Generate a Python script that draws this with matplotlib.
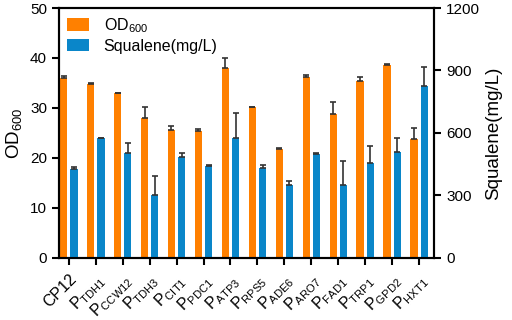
import matplotlib
matplotlib.use("Agg")
import matplotlib.pyplot as plt
import numpy as np

plt.rcParams["font.family"] = ["Liberation Sans", "DejaVu Sans"]
plt.rcParams["mathtext.fontset"] = "custom"
plt.rcParams["mathtext.rm"] = "Liberation Sans"

STRAINS = ["CP12", "TDH1", "CCW12", "TDH3", "CIT1", "PDC1", "ATP3",
           "RPS5", "ADE6", "ARO7", "FAD1", "TRP1", "GPD2", "HXT1"]
OD600 = [36.0, 34.7, 32.9, 27.9, 25.6, 25.4, 38.0,
         30.1, 21.8, 36.2, 28.8, 35.3, 38.5, 23.8]
OD600_ERR = [0.3, 0.2, 0.0, 2.3, 0.8, 0.3, 1.9,
             0.1, 0.1, 0.3, 2.3, 0.8, 0.2, 2.2]
SQUALENE = [425, 574, 506, 300, 485, 442, 574,
            432, 350, 499, 350, 456, 509, 826]
SQUALENE_ERR = [12, 2, 48, 94, 17, 2, 122,
                13, 19, 3, 114, 80, 69, 93]

ORANGE = "#FF8000"
BLUE = "#0A86C9"

fig = plt.figure(figsize=(5.12, 3.2), dpi=100)
ax = fig.add_axes([0.115, 0.194, 0.733, 0.781])
ax2 = ax.twinx()

x = np.arange(len(STRAINS))
width = 0.27
err_kw = dict(ecolor="#333333", elinewidth=1.2, capsize=2, capthick=1.2)

b1 = ax.bar(x - 0.19, OD600, width, color=ORANGE,
            yerr=[np.zeros(len(x)), OD600_ERR], error_kw=err_kw, zorder=2)
b2 = ax2.bar(x + 0.19, SQUALENE, width, color=BLUE,
             yerr=[np.zeros(len(x)), SQUALENE_ERR], error_kw=err_kw, zorder=2)

ax.set_xlim(-0.37, 13.56)
ax.set_ylim(0, 50)
ax2.set_ylim(0, 1200)
ax.set_yticks([0, 10, 20, 30, 40, 50])
ax2.set_yticks([0, 300, 600, 900, 1200])

labels = [STRAINS[0]] + [r"P$_{\mathrm{%s}}$" % s for s in STRAINS[1:]]
ax.set_xticks(x)
ax.set_xticklabels(labels, rotation=45, ha="right", rotation_mode="anchor")

for a in (ax, ax2):
    for side in a.spines.values():
        side.set_linewidth(1.5)
    a.tick_params(axis="both", width=1.5, length=5, labelsize=11)
ax.tick_params(axis="x", labelsize=11.5, pad=5)

ax.set_ylabel("OD$_{600}$", fontsize=13.5)
ax2.set_ylabel("Squalene(mg/L)", fontsize=13.5)

ax.legend([b1, b2], ["OD$_{600}$", "Squalene(mg/L)"], loc="upper left",
          frameon=False, fontsize=11.5, handlelength=1.4, handleheight=0.8,
          handletextpad=0.9, borderaxespad=0.1, labelspacing=0.25)

fig.savefig("out.png", dpi=100)
